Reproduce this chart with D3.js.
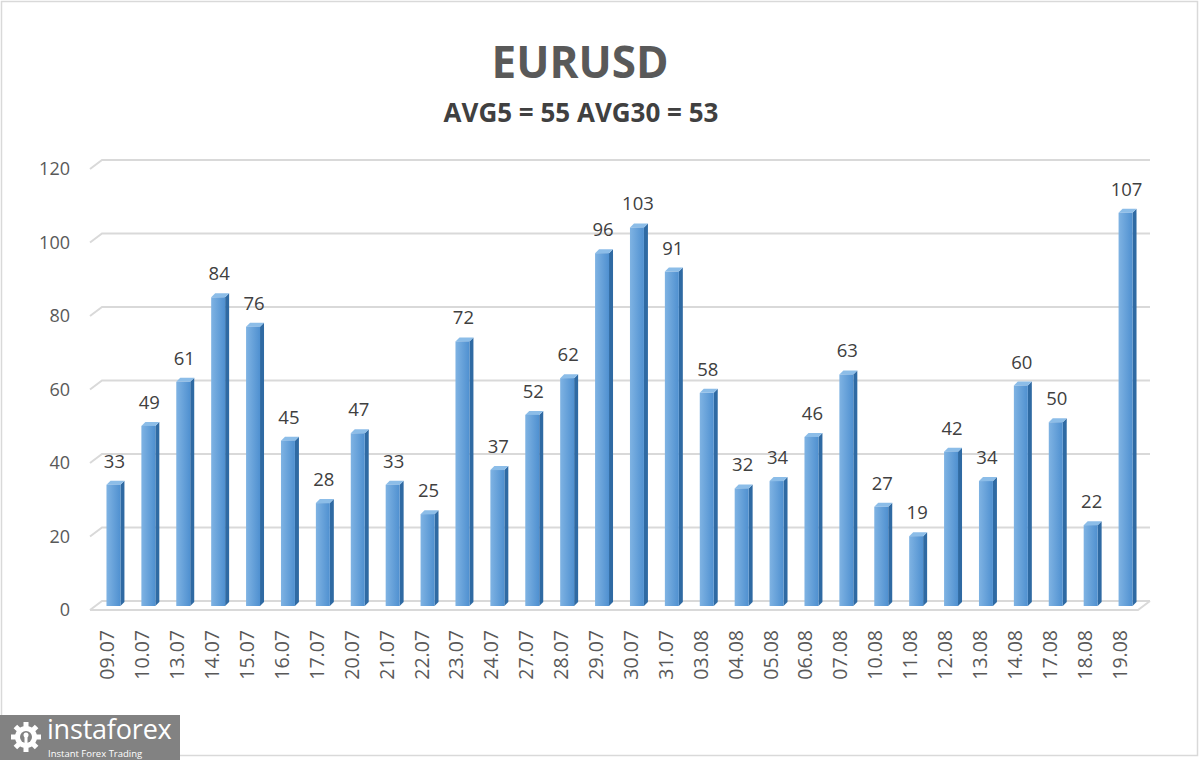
<!DOCTYPE html>
<html><head><meta charset="utf-8">
<script src="https://cdn.jsdelivr.net/npm/d3@7/dist/d3.min.js"></script>
<style>html,body{margin:0;padding:0;background:#fff;}svg{display:block;}</style>
</head><body>
<script>
const categories = ["09.07","10.07","13.07","14.07","15.07","16.07","17.07","20.07","21.07","22.07","23.07","24.07","27.07","28.07","29.07","30.07","31.07","03.08","04.08","05.08","06.08","07.08","10.08","11.08","12.08","13.08","14.08","17.08","18.08","19.08"];
const values = [33,49,61,84,76,45,28,47,33,25,72,37,52,62,96,103,91,58,32,34,46,63,27,19,42,34,60,50,22,107];
const yTicks = [0,20,40,60,80,100,120];
const titleText = "EURUSD";
const subtitleText = "AVG5 = 55 AVG30 = 53";

const W = 1200, H = 760;
const svg = d3.select("body").append("svg").attr("width", W).attr("height", H);
const defs = svg.append("defs");
const g1 = defs.append("linearGradient").attr("id","barGrad").attr("x1","0").attr("x2","1").attr("y1","0").attr("y2","0");
g1.append("stop").attr("offset","0%").attr("stop-color","#7fb3e3");
g1.append("stop").attr("offset","100%").attr("stop-color","#4f90d0");

svg.append("rect").attr("x",1.5).attr("y",1.5).attr("width",W-4).attr("height",H-6)
  .attr("fill","#fff").attr("stroke","#d9d9d9").attr("stroke-width",1.5);

const depth = 9, dx = 12;
const yFront = d3.scaleLinear().domain([0,120]).range([610,169]);
const yBar = d3.scaleLinear().domain([0,120]).range([606,165]);
const x = d3.scaleBand().domain(categories).range([96,1143]).paddingInner(0.6).paddingOuter(0.3);

// gridlines (3D wall style)
const grid = svg.append("g");
yTicks.forEach(t => {
  const yf = yFront(t);
  grid.append("path").attr("d", `M90,${yf} L${90+dx},${yf-depth} L1150,${yf-depth}`)
    .attr("fill","none").attr("stroke","#d9d9d9").attr("stroke-width",2);
  if (t === 0) {
    grid.append("path").attr("d", `M90,${yf} L1138,${yf} L1150,${yf-depth}`)
      .attr("fill","none").attr("stroke","#d9d9d9").attr("stroke-width",2);
  }
});

// y labels
svg.append("g").selectAll("text").data(yTicks).join("text")
  .attr("x",70).attr("y",d=>yFront(d)).attr("dy","0.36em").attr("text-anchor","end")
  .attr("font-family","'Open Sans', 'DejaVu Sans', sans-serif").attr("font-size",18).attr("fill","#595959")
  .text(d=>d);

// bars
const bw = x.bandwidth();
const sd = 4;
const bars = svg.append("g").selectAll("g").data(values).join("g");
bars.append("path").attr("d",(d,i)=>{
  const xl = x(categories[i]), yt = yBar(d), yb = yBar(0);
  return `M${xl+bw},${yt} L${xl+bw+sd},${yt-sd} L${xl+bw+sd},${yb-sd} L${xl+bw},${yb} Z`;
}).attr("fill","#2f6aa3");
bars.append("path").attr("d",(d,i)=>{
  const xl = x(categories[i]), yt = yBar(d);
  return `M${xl},${yt} L${xl+sd},${yt-sd} L${xl+bw+sd},${yt-sd} L${xl+bw},${yt} Z`;
}).attr("fill","#8cbde8");
bars.append("rect").attr("x",(d,i)=>x(categories[i])).attr("y",d=>yBar(d))
  .attr("width",bw).attr("height",d=>yBar(0)-yBar(d)).attr("fill","url(#barGrad)");

// value labels
svg.append("g").selectAll("text").data(values).join("text")
  .attr("x",(d,i)=>x(categories[i])+bw/2+1).attr("y",d=>yBar(d)-17)
  .attr("text-anchor","middle")
  .attr("font-family","'Open Sans', 'DejaVu Sans', sans-serif").attr("font-size",18.5).attr("fill","#404040")
  .text(d=>d);

// x labels
svg.append("g").selectAll("text").data(categories).join("text")
  .attr("transform",(d)=>`translate(${x(d)+bw/2-6},630) rotate(-90)`)
  .attr("dy","0.36em").attr("text-anchor","end")
  .attr("font-family","'Open Sans', 'DejaVu Sans', sans-serif").attr("font-size",19.5).attr("fill","#595959")
  .text(d=>d);

// titles
svg.append("text").attr("x",580).attr("y",78).attr("text-anchor","middle")
  .attr("font-family","'Open Sans', 'Liberation Sans', sans-serif").attr("font-weight","bold")
  .attr("font-size",44).attr("fill","#595959").text(titleText);
svg.append("text").attr("x",581).attr("y",122).attr("text-anchor","middle")
  .attr("font-family","'Open Sans', 'Liberation Sans', sans-serif").attr("font-weight","bold")
  .attr("font-size",26).attr("fill","#404040").text(subtitleText);

// logo
const logo = svg.append("g");
logo.append("rect").attr("x",0).attr("y",715).attr("width",180).attr("height",45).attr("fill","#828282");
const gear = logo.append("g").attr("transform","translate(26,737)");
const teeth = d3.range(8);
gear.selectAll("rect").data(teeth).join("rect")
  .attr("x",-2.5).attr("y",-15).attr("width",5).attr("height",7).attr("fill","#fff")
  .attr("transform",d=>`rotate(${d*45})`);
gear.append("circle").attr("r",11).attr("fill","#fff");
gear.append("circle").attr("r",6).attr("fill","#828282");
gear.append("circle").attr("cy",-2).attr("r",2.5).attr("fill","#fff");
gear.append("rect").attr("x",-1.5).attr("y",0).attr("width",3).attr("height",13).attr("fill","#fff");
logo.append("text").attr("x",47).attr("y",739)
  .attr("font-family","'Open Sans', 'DejaVu Sans', sans-serif").attr("font-size",27).attr("fill","#fff").attr("letter-spacing","-0.2")
  .text("instaforex");
logo.append("text").attr("x",48).attr("y",757)
  .attr("font-family","'Open Sans', 'DejaVu Sans', sans-serif").attr("font-size",9.5).attr("fill","#fff")
  .text("Instant Forex Trading");
</script>
</body></html>
